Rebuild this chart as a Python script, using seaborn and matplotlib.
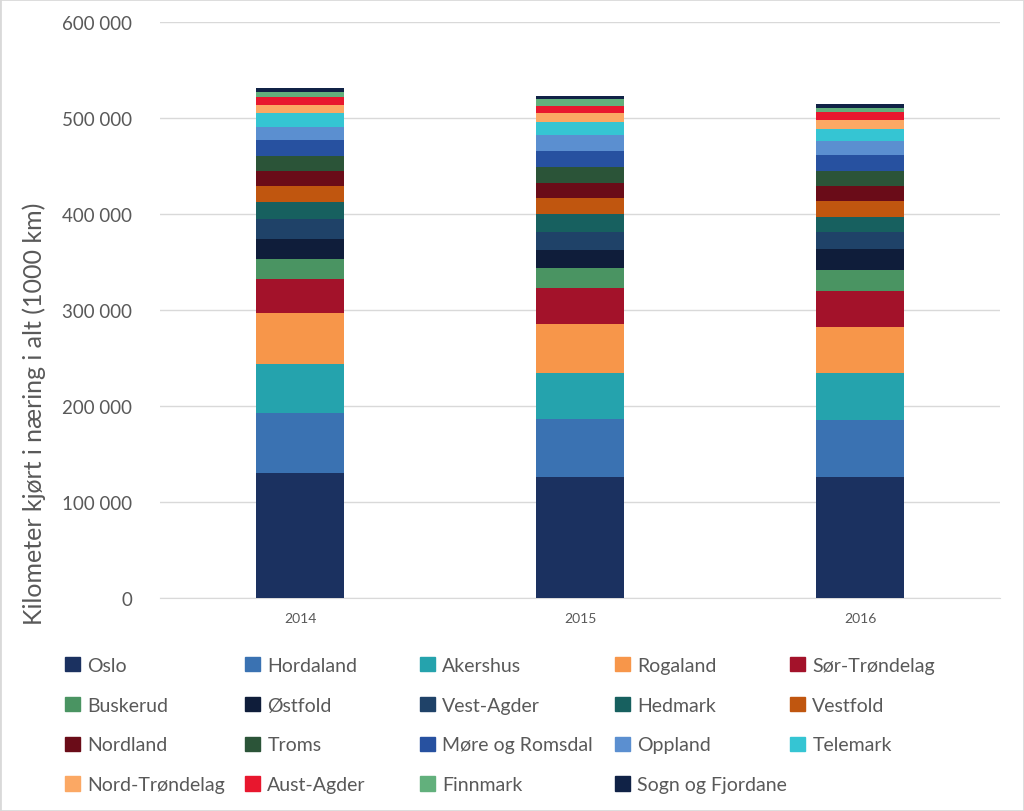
import matplotlib
matplotlib.use("Agg")
import matplotlib.pyplot as plt
import matplotlib.patches as mpatches
from matplotlib.ticker import FuncFormatter
import seaborn as sns
import pandas as pd
import numpy as np

years = ["2014", "2015", "2016"]
regions = ["Oslo", "Hordaland", "Akershus", "Rogaland", "Sør-Trøndelag",
           "Buskerud", "Østfold", "Vest-Agder", "Hedmark", "Vestfold",
           "Nordland", "Troms", "Møre og Romsdal", "Oppland", "Telemark",
           "Nord-Trøndelag", "Aust-Agder", "Finnmark", "Sogn og Fjordane"]
values = {
    "Oslo":             [130200, 126000, 126000],
    "Hordaland":        [62500, 60500, 59400],
    "Akershus":         [51000, 47900, 49000],
    "Rogaland":         [53100, 51000, 47900],
    "Sør-Trøndelag":    [35200, 37500, 37500],
    "Buskerud":         [21100, 20800, 22200],
    "Østfold":          [20900, 19100, 21200],
    "Vest-Agder":       [20800, 18800, 18400],
    "Hedmark":          [17400, 18400, 15600],
    "Vestfold":         [17300, 16300, 16000],
    "Nordland":         [15600, 16000, 16300],
    "Troms":            [15700, 16300, 15600],
    "Møre og Romsdal":  [16300, 17300, 16400],
    "Oppland":          [13900, 16700, 14900],
    "Telemark":         [14200, 12900, 12500],
    "Nord-Trøndelag":   [8300, 9400, 9300],
    "Aust-Agder":       [8700, 7700, 7700],
    "Finnmark":         [5200, 6700, 4500],
    "Sogn og Fjordane": [3900, 3400, 4500],
}
colors = ["#1b3160", "#3a72b2", "#25a3ad", "#f7964a", "#a3122a",
          "#4a9462", "#0f1d3a", "#1f4268", "#17605f", "#c0560f",
          "#6a0c18", "#2b5438", "#2751a0", "#5b8fd0", "#35c5d3",
          "#fba864", "#e8172e", "#62b07c", "#102246"]

df = pd.DataFrame(values, index=years)
cum = df.cumsum(axis=1)

fig = plt.figure(figsize=(10.24, 8.12), dpi=100)
ax = fig.add_axes([160 / 1024, 1 - 599 / 812, 840 / 1024, 576 / 812])

font = ["Lato", "DejaVu Sans"]
grey = "#595959"

# draw cumulative layers from top to bottom so each region shows its own slice
for i in range(len(regions) - 1, -1, -1):
    sns.barplot(x=years, y=cum[regions[i]].values, color=colors[i],
                width=0.315, saturation=1, ax=ax, zorder=3)

ax.set_ylim(0, 600000)
ax.set_xlim(-0.5, 2.5)
ax.set_yticks(np.arange(0, 600001, 100000))
ax.yaxis.set_major_formatter(FuncFormatter(lambda v, p: f"{int(v):,}".replace(",", " ")))
ax.grid(axis="y", color="#d9d9d9", linewidth=1, zorder=0)
ax.set_axisbelow(True)
for s in ["top", "right", "left"]:
    ax.spines[s].set_visible(False)
ax.spines["bottom"].set_color("#d9d9d9")
ax.tick_params(axis="both", length=0, colors=grey)
ax.tick_params(axis="y", pad=20)
for t in ax.get_yticklabels():
    t.set_fontfamily(font)
    t.set_fontsize(13.5)
for t in ax.get_xticklabels():
    t.set_fontfamily(font)
    t.set_fontsize(10)
ax.tick_params(axis="x", pad=10)
ax.set_xlabel("")
ax.set_ylabel("Kilometer kjørt i næring i alt (1000 km)", fontsize=18,
              family=font, color=grey)
ax.yaxis.set_label_coords(-0.136, 0.322)

# legend: one block per column so the columns sit where Excel put them
ncol = 5
col_x = [65, 245, 420, 615, 790]
for col in range(ncol):
    idx = list(range(col, len(regions), ncol))
    hs = [mpatches.Patch(color=colors[k]) for k in idx]
    leg = fig.legend(hs, [regions[k] for k in idx], loc="upper left",
                     bbox_to_anchor=(col_x[col] / 1024, 1 - 658 / 812),
                     frameon=False, prop={"family": font, "size": 14},
                     handlelength=0.75, handleheight=0.75, handletextpad=0.4,
                     labelspacing=1.17, borderaxespad=0, borderpad=0)
    for t in leg.get_texts():
        t.set_color(grey)

fig.patches.append(mpatches.Rectangle((0, 0), 1, 1, transform=fig.transFigure,
                                      fill=False, edgecolor="#d9d9d9", linewidth=2))

fig.savefig("out.png", dpi=100)
